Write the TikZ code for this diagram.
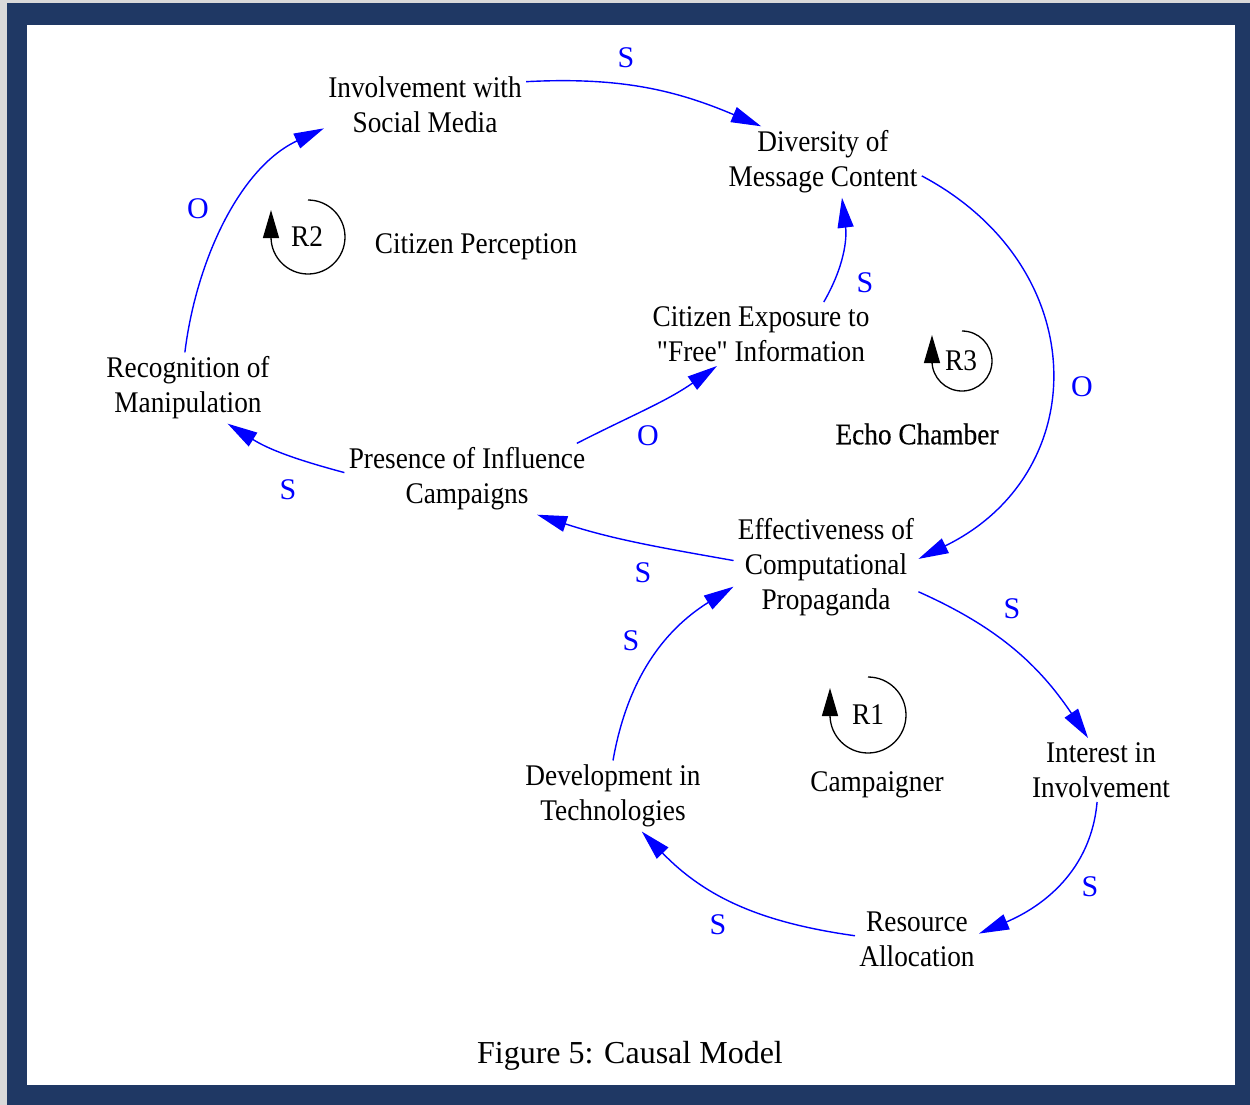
\documentclass[tikz,border=0pt]{standalone}
\usepackage{fontspec}
\setmainfont{Liberation Serif}
\newfontfamily\cldfont[FakeStretch=0.91]{Liberation Serif}
\newfontfamily\echofont[FakeStretch=0.91,FakeBold=0.4]{Liberation Serif}
\usetikzlibrary{arrows.meta}
\definecolor{framebg}{RGB}{31,56,100}
\definecolor{linkblue}{RGB}{0,0,255}

\begin{document}
\begin{tikzpicture}
[
x=0.5pt, y=0.5pt,
var/.style={align=center, inner sep=2pt, font=\cldfont\fontsize{15}{17.5}\selectfont},
loopname/.style={inner sep=1pt, font=\cldfont\fontsize{15}{17.5}\selectfont},
pol/.style={inner sep=0pt, text=linkblue, font=\fontsize{15}{17.5}\selectfont},
link/.style={color=linkblue, line width=0.7pt, -{Triangle[length=15pt,width=8pt]}},
loopsym/.style={draw=black, line width=0.65pt, -{Triangle[length=14pt,width=8pt]}}
]
%Frame
\useasboundingbox (0,0) rectangle (1250,-1105);
\fill[gray!30] (0,0) rectangle (1250,-1105);
\fill[framebg] (7,-3) rectangle (1250,-1105);
\fill[white] (27,-25) rectangle (1235,-1085);

%Nodes
\node[var]  (inv)   at (425,-105)  {Involvement with\\Social Media};
\node[var]  (div)   at (823,-162)  {Diversity of\\Message Content};
\node[var]  (rec)   at (188,-388)  {Recognition of\\Manipulation};
\node[var]  (cit)   at (761,-334)  {Citizen Exposure to\\"Free" Information};
\node[var]  (pres)  at (467,-479)  {Presence of Influence\\Campaigns};
\node[var]  (eff)   at (826,-567)  {Effectiveness of\\Computational\\Propaganda};
\node[var]  (int)   at (1101,-770) {Interest in\\Involvement};
\node[var]  (dev)   at (613,-796)  {Development in\\Technologies};
\node[var]  (res)   at (917,-939)  {Resource\\Allocation};

\node[var]  (perc)  at (476,-247)  {Citizen Perception};
\node[var, font=\echofont\fontsize{15}{17.5}\selectfont] (echo) at (917,-434) {Echo Chamber};
\node[var]  (camp)  at (877,-785)  {Campaigner};

\node[loopname] (r1) at (868,-715) {R1};
\node[loopname] (r2) at (307,-237) {R2};
\node[loopname] (r3) at (961,-361) {R3};

%Polarities
\node[pol] (p1)  at (626,-58)  {S};
\node[pol] (p2)  at (1082,-387) {O};
\node[pol] (p3)  at (865,-283) {S};
\node[pol] (p4)  at (648,-436) {O};
\node[pol] (p5)  at (288,-490) {S};
\node[pol] (p6)  at (198,-209) {O};
\node[pol] (p7)  at (643,-573) {S};
\node[pol] (p8)  at (631,-641) {S};
\node[pol] (p9)  at (1012,-609) {S};
\node[pol] (p10) at (1090,-887) {S};
\node[pol] (p11) at (718,-925) {S};

\node[font=\fontsize{16}{19}\selectfont] (caption) at (630,-1056) {Figure 5: Causal Model};

%Lines
\path[link]
(inv.13)   edge [out=3,   in=157]               (div.150)
(div.-8)   edge [out=-28, in=26, looseness=1.3] (eff.5)
(cit.27)   edge [out=60,  in=-83]               (div.-62)
(pres.18)  edge [out=27,  in=215]               (cit.216)
(pres.177) edge [out=165, in=-32]               (rec.-42)
(rec.95)   edge [out=83,  in=205, looseness=0.9] (inv.193)
(eff.176)  edge [out=170, in=-18]               (pres.-27)
(dev.90)   edge [out=80,  in=212]               (eff.192)
(eff.-15)  edge [out=-24, in=124]               (int.112)
(int.-97)  edge [out=-95, in=23]                (res.5)
(res.177)  edge [out=172, in=-46]               (dev.-51);

%Loops
\draw[loopsym] ([yshift=19pt]r1.center) arc (90:-180:19pt) -- ++(0,27);
\draw[loopsym] ([xshift=0.5pt,yshift=18.5pt]r2.center) arc (90:-180:18.5pt) -- ++(0,27);
\draw[loopsym] ([xshift=0.5pt,yshift=15pt]r3.center) arc (90:-180:15pt) -- ++(0,26);
\end{tikzpicture}
\end{document}
